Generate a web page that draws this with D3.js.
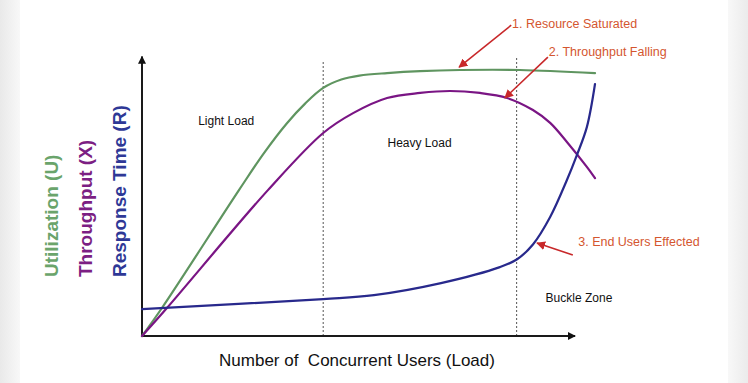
<!DOCTYPE html>
<html>
<head>
<meta charset="utf-8">
<script src="https://cdn.jsdelivr.net/npm/d3@7"></script>
<style>
  html, body { margin: 0; padding: 0; background: #fff; }
  svg { display: block; font-family: "Liberation Sans", Arial, sans-serif; }
</style>
</head>
<body>
<svg id="chart" width="748" height="383"></svg>
<script>
// ---- data (load units 0..100, value units 0..100) ----
const utilLoad   = [0, 4.4, 21.4, 27, 32, 36, 40, 44, 48, 54.1, 61.4, 70.2, 83.4, 100];
const utilValue  = [0, 10, 52.1, 65.5, 76, 83, 88.6, 91.6, 93, 93.9, 94.6, 95, 95, 93.9];

const thruLoad   = [0, 5.5, 27.8, 40, 46.6, 54.1, 61.4, 68, 74.6, 80.6, 86.3, 90.1, 93.8, 98.2, 100];
const thruValue  = [0, 10, 52.1, 72.5, 79.6, 85, 86.8, 87.5, 86.8, 85, 80.7, 76.1, 69.3, 60.4, 56.4];

const respLoad   = [0, 40, 51.2, 66, 79, 82.8, 86.3, 90.1, 93.8, 96, 98.2, 100];
const respValue  = [9.6, 13.2, 14.6, 18.9, 24.6, 27.4, 32.7, 42.5, 55.7, 64.6, 74.6, 90];

const zoneBoundaries = [40, 82.7];
const zoneLabels = ["Light Load", "Heavy Load", "Buckle Zone"];
const zoneLabelLoad = [12.4, 54.2, 89.1];
const zoneLabelValue = [75.5, 67.5, 12];

const axisLabelX = "Number of  Concurrent Users (Load)";
const axisLabelsY = ["Utilization (U)", "Throughput (X)", "Response Time (R)"];

const noteTexts = ["1. Resource Saturated", "2. Throughput Falling", "3. End Users Effected"];
const noteTextLoad = [81.7, 89.8, 96.3];
const noteTextValue = [111.4, 101.4, 33.6];
const noteTailLoad = [81.5, 89.6, 95.1];
const noteTailValue = [111, 99.6, 28.9];
const noteTipLoad = [70, 80.1, 87.2];
const noteTipValue = [96, 85, 33.2];

// ---- drawing ----
const W = 748, H = 383;
const svg = d3.select("#chart");
const x = d3.scaleLinear().domain([0, 100]).range([142, 595]);
const y = d3.scaleLinear().domain([0, 100]).range([336, 56]);

// side shading
const defs = svg.append("defs");
const gl = defs.append("linearGradient").attr("id", "gl").attr("x1", 0).attr("x2", 1);
gl.append("stop").attr("offset", 0).attr("stop-color", "#e9e9e9");
gl.append("stop").attr("offset", 1).attr("stop-color", "#f8f8f8");
const gr = defs.append("linearGradient").attr("id", "gr").attr("x1", 0).attr("x2", 1);
gr.append("stop").attr("offset", 0).attr("stop-color", "#f8f8f8");
gr.append("stop").attr("offset", 1).attr("stop-color", "#ebebeb");
svg.append("rect").attr("x", 0).attr("y", 0).attr("width", 20).attr("height", H).attr("fill", "url(#gl)");
svg.append("rect").attr("x", 728).attr("y", 0).attr("width", 20).attr("height", H).attr("fill", "url(#gr)");

const marker = (id, color, size) => {
  defs.append("marker").attr("id", id)
    .attr("viewBox", "0 0 10 10").attr("refX", 9).attr("refY", 5)
    .attr("markerWidth", size).attr("markerHeight", size)
    .attr("markerUnits", "userSpaceOnUse")
    .attr("orient", "auto")
    .append("path").attr("d", "M0,0 L10,5 L0,10 z").attr("fill", color);
};
marker("ah", "#111", 8);
marker("ar", "#c8282a", 9);

// dashed zone boundaries
svg.selectAll("line.zone").data(zoneBoundaries).enter().append("line")
  .attr("class", "zone")
  .attr("x1", d => x(d)).attr("x2", d => x(d))
  .attr("y1", y(0)).attr("y2", (d, i) => y(i === 0 ? 98 : 99.7))
  .attr("stroke", "#555").attr("stroke-width", 1).attr("stroke-dasharray", "2,2");

// axes
svg.append("line").attr("x1", x(0)).attr("y1", y(0)).attr("x2", x(95.6)).attr("y2", y(0))
  .attr("stroke", "#1a1a1a").attr("stroke-width", 2).attr("marker-end", "url(#ah)");
svg.append("line").attr("x1", x(0)).attr("y1", y(0)).attr("x2", x(0)).attr("y2", y(99.8))
  .attr("stroke", "#1a1a1a").attr("stroke-width", 2).attr("marker-end", "url(#ah)");

// curves
const line = d3.line().x(d => x(d[0])).y(d => y(d[1])).curve(d3.curveCatmullRom.alpha(0.5));
const series = [
  { load: utilLoad, value: utilValue, color: "#5f9560" },
  { load: thruLoad, value: thruValue, color: "#7a1584" },
  { load: respLoad, value: respValue, color: "#28298c" }
];
svg.selectAll("path.curve").data(series).enter().append("path")
  .attr("class", "curve")
  .attr("d", s => line(d3.zip(s.load, s.value)))
  .attr("fill", "none").attr("stroke", s => s.color).attr("stroke-width", 2.2)
  .attr("stroke-linecap", "round");

// zone labels
svg.selectAll("text.zl").data(zoneLabels).enter().append("text")
  .attr("class", "zl")
  .attr("x", (d, i) => x(zoneLabelLoad[i])).attr("y", (d, i) => y(zoneLabelValue[i]))
  .attr("font-size", 12).attr("fill", "#111").text(d => d);

// x axis label
svg.append("text").attr("x", 357).attr("y", 366).attr("text-anchor", "middle")
  .attr("font-size", 17).attr("fill", "#111").style("white-space", "pre")
  .text(axisLabelX);

// y axis labels
const yLabColors = ["#6aa46b", "#7c1f83", "#2e3896"];
const yLabX = [58, 92, 126];
svg.selectAll("text.yl").data(axisLabelsY).enter().append("text")
  .attr("class", "yl")
  .attr("transform", (d, i) => `translate(${yLabX[i]},277) rotate(-90)`)
  .attr("font-size", 19).attr("font-weight", "bold")
  .attr("fill", (d, i) => yLabColors[i]).text(d => d);

// annotations
noteTexts.forEach((t, i) => {
  svg.append("line")
    .attr("x1", x(noteTailLoad[i])).attr("y1", y(noteTailValue[i]))
    .attr("x2", x(noteTipLoad[i])).attr("y2", y(noteTipValue[i]))
    .attr("stroke", "#c8282a").attr("stroke-width", 1.6).attr("marker-end", "url(#ar)");
  svg.append("text")
    .attr("x", x(noteTextLoad[i])).attr("y", y(noteTextValue[i]) + 4)
    .attr("font-size", 12.5).attr("fill", "#d4562f").text(t);
});
</script>
</body>
</html>
